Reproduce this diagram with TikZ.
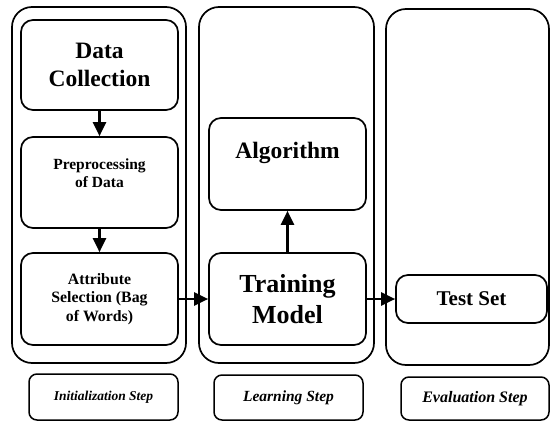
\documentclass[tikz,border=0pt]{standalone}
\usepackage{fontspec}
\setmainfont{Liberation Serif}
\usetikzlibrary{arrows.meta}
\newcommand{\fs}[1]{\fontsize{#1}{1.18\dimexpr #1pt\relax}\selectfont}
\begin{document}
\begin{tikzpicture}[x=1pt,y=-1pt,
  lane/.style={draw, line width=1.7pt, rounded corners=20pt, fill=white},
  box/.style={draw, line width=1.7pt, rounded corners=12pt, fill=white,
    align=center, inner sep=0pt},
  tag/.style={draw, line width=1.5pt, rounded corners=8pt, fill=white,
    align=center, inner sep=0pt},
  bf/.style={font=\bfseries\fs{#1}},
  bi/.style={font=\bfseries\itshape\fs{#1}},
  arr/.style={-{Triangle[length=14pt,width=13pt]}, line width=2.2pt}]
\useasboundingbox (0,0) rectangle (550,421);

% the three stage lanes
\node[lane, minimum width=174pt, minimum height=356pt] (laneI) at (99,185) {};
\node[lane, minimum width=175pt, minimum height=356pt] (laneL) at (286.5,185) {};
\node[lane, minimum width=163pt, minimum height=356pt] (laneE) at (467.5,187) {};

% initialization stage
\node[box, bf=23.5, minimum width=157pt, minimum height=90pt] (dc) at (99.5,65)
  {Data\\Collection};
\node[box, bf=15.5, minimum width=157pt, minimum height=91pt] (pp) at (99.5,182.5)
  {Preprocessing\\of Data\\~};
\node[box, bf=15.8, minimum width=157pt, minimum height=92pt] (as) at (99.5,299)
  {Attribute\\Selection (Bag\\of Words)};

% learning stage
\node[box, bf=23.5, minimum width=157pt, minimum height=92pt] (alg) at (287.5,164)
  {Algorithm\\~};
\node[box, bf=26, minimum width=157pt, minimum height=92pt] (tm) at (287.5,299)
  {Training\\Model};

% evaluation stage
\node[box, bf=21, minimum width=151pt, minimum height=48pt] (ts) at (471.5,299)
  {Test Set};

% stage captions
\node[tag, bi=13.5, minimum width=149pt, minimum height=46pt] (tI) at (103.5,397)
  {Initialization Step};
\node[tag, bi=15.5, minimum width=149pt, minimum height=45pt] (tL) at (288.5,397.5)
  {Learning Step};
\node[tag, bi=16, minimum width=148pt, minimum height=43pt] (tE) at (475,398.5)
  {Evaluation Step};

% flow
\draw[arr] (dc.south) -- (pp.north);
\draw[arr] (pp.south) -- (as.north);
\draw[arr] (as.east) -- (tm.west);
\draw[arr] (tm.north) -- (alg.south);
\draw[arr] (tm.east) -- (ts.west);
\end{tikzpicture}
\end{document}
